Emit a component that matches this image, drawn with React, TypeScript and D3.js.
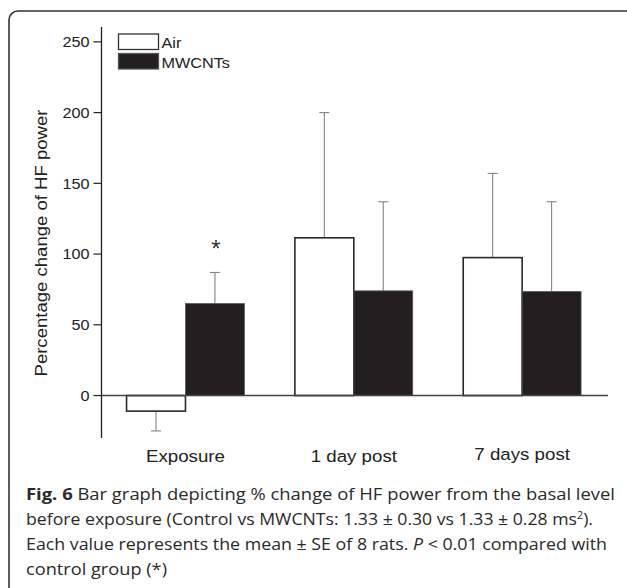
import React from 'react';
import * as d3 from 'd3';

// groups on the x axis
const categories = ['Exposure', '1 day post', '7 days post'];
const seriesNames = ['Air', 'MWCNTs'];
// mean % change of HF power
const airValues = [-11, 111.5, 97.5];
const mwcntValues = [65, 74, 73.5];
// standard errors
const airErrors = [14, 88.5, 59.5];
const mwcntErrors = [22, 63, 63.5];
// P < 0.01 vs control, per group: [air, mwcnt]
const significant = [[false, true], [false, false], [false, false]];
const yTicks = [0, 50, 100, 150, 200, 250];

const W = 627;
const H = 588;
const FONT = '"Liberation Sans", Arial, Helvetica, sans-serif';
const CAP_FONT = '"Open Sans", "Noto Sans", sans-serif';

const App = () => {
  const y = d3.scaleLinear().domain([-30, 260.5]).range([438, 27]);
  const x = d3.scaleBand().domain(categories).range([101.3, 606.3]).paddingInner(0.3).paddingOuter(0.15);
  const xs = d3.scaleBand().domain(seriesNames).range([0, x.bandwidth()]);

  const rows = categories.flatMap((c, i) => [
    { cat: c, s: 'Air', v: airValues[i], e: airErrors[i], sig: significant[i][0] },
    { cat: c, s: 'MWCNTs', v: mwcntValues[i], e: mwcntErrors[i], sig: significant[i][1] },
  ]);

  const axisX = 101.5;

  return (
    <svg width={W} height={H} style={{ display: 'block', position: 'absolute', left: 0, top: 0 }}>
      <rect x={0} y={0} width={W} height={H} fill="#fff" />
      {/* frame */}
      <rect x={9} y={11} width={660} height={640} rx={9} fill="none" stroke="#333" strokeWidth={1.6} />

      {/* y axis */}
      <line x1={axisX} x2={axisX} y1={y(260.5)} y2={y(-30)} stroke="#222" strokeWidth={1.3} />
      {yTicks.map((t) => (
        <g key={t}>
          <line x1={axisX - 8} x2={axisX} y1={y(t)} y2={y(t)} stroke="#222" strokeWidth={1.2} />
          <text
            transform={`translate(${axisX - 12},${y(t) + 5.2}) scale(1.12,1)`}
            textAnchor="end"
            fontFamily={FONT}
            fontSize={14.5}
            fill="#222"
          >
            {t}
          </text>
        </g>
      ))}
      <text
        transform={`translate(47,243) rotate(-90) scale(1.16,1)`}
        textAnchor="middle"
        fontFamily={FONT}
        fontSize={16}
        fill="#222"
      >
        Percentage change of HF power
      </text>

      {/* bars */}
      {rows.map((r, i) => {
        const bx = x(r.cat) + xs(r.s);
        const top = y(Math.max(0, r.v));
        const bottom = y(Math.min(0, r.v));
        const cx = bx + xs.bandwidth() / 2;
        const tip = r.v >= 0 ? y(r.v + r.e) : y(r.v - r.e);
        const start = r.v >= 0 ? top : bottom;
        return (
          <g key={i}>
            <line x1={cx} x2={cx} y1={start} y2={tip} stroke="#858585" strokeWidth={1.1} />
            <line x1={cx - 5} x2={cx + 5} y1={tip} y2={tip} stroke="#858585" strokeWidth={1.1} />
            <rect
              x={bx}
              y={top}
              width={xs.bandwidth()}
              height={bottom - top}
              fill={r.s === 'Air' ? '#fff' : '#231f20'}
              stroke={r.s === 'Air' ? '#2a2a2a' : '#555'}
              strokeWidth={r.s === 'Air' ? 1.6 : 0.8}
            />
            {r.sig && (
              <text x={cx + 1} y={tip - 15.5} textAnchor="middle" fontFamily={FONT} fontSize={24} fill="#333">
                *
              </text>
            )}
          </g>
        );
      })}
      {/* zero line */}
      <line x1={axisX} x2={608} y1={y(0)} y2={y(0)} stroke="#444" strokeWidth={1.5} />

      {/* x labels */}
      {categories.map((c) => (
        <text
          key={c}
          transform={`translate(${x(c) + x.bandwidth() / 2},${c === '7 days post' ? 460 : 462}) scale(1.1,1)`}
          textAnchor="middle"
          fontFamily={FONT}
          fontSize={17}
          fill="#222"
        >
          {c}
        </text>
      ))}

      {/* legend */}
      {seriesNames.map((s, i) => (
        <g key={s} transform={`translate(118.5,${34 + i * 19.5})`}>
          <rect
            x={0}
            y={0}
            width={40}
            height={15.5}
            fill={s === 'Air' ? '#fff' : '#231f20'}
            stroke={s === 'Air' ? '#333' : '#555'}
            strokeWidth={1.3}
          />
          <text transform={`translate(43,14) scale(1.12,1)`} fontFamily={FONT} fontSize={14.5} fill="#222">
            {s}
          </text>
        </g>
      ))}

      {/* caption */}
      <g fontFamily={CAP_FONT} fontSize={16.5} fill="#2a2a2a">
        <text x={26} y={500} textLength={589} lengthAdjust="spacingAndGlyphs">
          <tspan fontWeight="bold">Fig. 6</tspan> Bar graph depicting % change of HF power from the basal level
        </text>
        <text x={26} y={525} textLength={567} lengthAdjust="spacingAndGlyphs">
          before exposure (Control vs MWCNTs: 1.33 ± 0.30 vs 1.33 ± 0.28 ms
          <tspan fontSize={10} dy={-6}>2</tspan>
          <tspan dy={6}>).</tspan>
        </text>
        <text x={26} y={550} textLength={581} lengthAdjust="spacingAndGlyphs">
          Each value represents the mean ± SE of 8 rats. <tspan fontStyle="italic">P</tspan> &lt; 0.01 compared with
        </text>
        <text x={26} y={575} textLength={141} lengthAdjust="spacingAndGlyphs">
          control group (*)
        </text>
      </g>
    </svg>
  );
};

export default App;
